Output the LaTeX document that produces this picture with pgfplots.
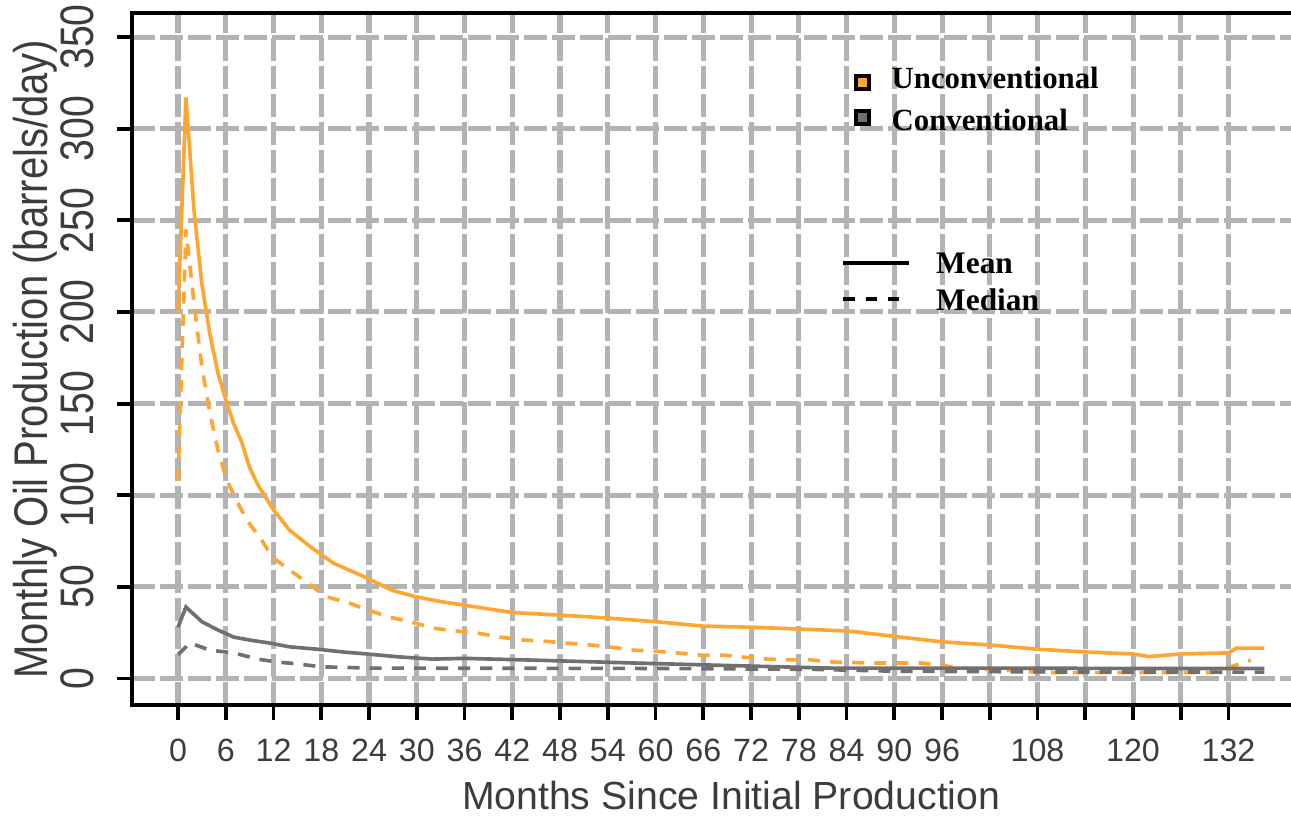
\documentclass[border=0pt]{standalone}
\usepackage{fontspec}
\setmainfont{Liberation Sans}
\newfontfamily\legfont{Liberation Serif}
\usepackage{graphicx}
\usepackage{pgfplots}
\pgfplotsset{compat=1.18}

\definecolor{uncon}{RGB}{255,166,50}
\definecolor{conv}{RGB}{112,112,112}
\definecolor{gridc}{RGB}{179,179,179}
\definecolor{labc}{RGB}{60,60,60}

\begin{document}
\begin{tikzpicture}
\useasboundingbox (0,0) rectangle (461pt,291.4pt);
\begin{axis}[
  at={(47.14pt,39.64pt)}, anchor=south west,
  scale only axis, width=414pt, height=247.1pt,
  xmin=-5.78, xmax=139.9, ymin=-14.46, ymax=363.1,
  xtick={0,6,...,132},
  xticklabels={0,6,12,18,24,30,36,42,48,54,60,66,72,78,84,90,96,,108,,120,,132},
  ytick={0,50,...,350},
  axis line style={draw=none},
  tick align=outside, tick pos=left,
  major tick length=5.2pt,
  every tick/.style={black, line width=1.4pt},
  grid=major,
  grid style={gridc, line width=1.8pt, dash pattern=on 8.2pt off 1.8pt},
  /pgf/number format/assume math mode=true,
  xticklabel style={yshift=-6.8pt, font=\fontsize{11.5}{13}\selectfont, text=labc, anchor=north, inner sep=0pt},
  yticklabel shift=8.2pt,
  yticklabel style={font=\fontsize{14}{16}\selectfont, text=labc, rotate=90, anchor=south, inner sep=0pt},
  yticklabel={\scalebox{1}[1.2]{\pgfmathprintnumber{\tick}}},
  xlabel={Months Since Initial Production},
  xlabel style={at={([yshift=-37.2pt]rel axis cs:0.5168,0)}, anchor=base, font=\fontsize{14}{16}\selectfont, text=labc},
  ylabel={\scalebox{1}[1.18]{Monthly Oil Production (barrels/day)}},
  ylabel style={at={([xshift=-30.3pt]rel axis cs:0,0.5)}, anchor=base, font=\fontsize{14.3}{16}\selectfont, text=labc},
  clip=false
]
% unconventional, mean
\addplot[uncon, line width=1.3pt] coordinates {
  (0,200)(1,317)(2,256)(3,215)(4,188)(5,167)(6,152)(7,139)(8,129)(9,115)(10,106)
  (12,92)(14,81)(16.6,72)(19.5,63)(22.9,56.5)(27,48)(30,44.5)(33,42)(36,40)
  (42,36)(48,34.6)(54,33)(60,31)(66,28.6)(72,28)(78,27)(84,26)(90,23)(96,20)
  (102,18.3)(108,16)(114,14.5)(120,13.4)(122,12)(126,13.4)(132,14)(133,16.6)(136.5,16.6)};
% unconventional, median
\addplot[uncon, line width=1.3pt, dash pattern=on 4.3pt off 3.6pt] coordinates {
  (0,108)(1,245)(2,205)(3,170)(4,145)(5,125)(6,110)(7,100)(8.7,86)(10.3,77)(11.9,66)
  (14.1,59)(16.3,52)(18.7,44.5)(21.2,41.7)(24.1,37)(26.6,33.5)(29.2,31)(32,27.5)
  (34.8,26)(37.6,24.8)(40.5,22.6)(43.4,21)(45.9,20.4)(48.9,19.3)(51.8,18.3)(54.3,17.2)
  (57.2,15.5)(59.7,15)(62.7,14)(65.6,12.8)(68.5,12.8)(71,11.7)(74,10.6)(76.9,10.2)
  (79.4,10.2)(82.3,9)(87,8.5)(93.3,8.5)(98.7,5.7)(103,4.6)(109.6,3.2)(120,3.2)
  (130,3.2)(132,6)(134.8,10)};
% conventional, mean
\addplot[conv, line width=1.3pt] coordinates {
  (0,28)(1,39)(3,31)(5,26.5)(7,22.6)(9,21)(11.6,19.3)(14,17.3)(17.5,16)(20.7,14.5)
  (24,13.3)(27.8,11.8)(32,10.6)(36,11)(45,10)(57,8.5)(70,7)(82,5.7)(100,5.7)
  (120,5.5)(136.5,5.5)};
% conventional, median
\addplot[conv, line width=1.3pt, dash pattern=on 4.3pt off 3.6pt] coordinates {
  (0,13)(1.5,19.4)(4,15.5)(7,14)(10,10.6)(12.5,9)(15,8)(18,6.4)(24,5.7)(40,5.6)
  (60,5.5)(80,5)(90,4)(110,3.6)(136.5,3.5)};
% frame: left, bottom, top
\draw[black, line width=1.4pt] (rel axis cs:1,1) -- (rel axis cs:0,1)
  -- (rel axis cs:0,0) -- (rel axis cs:1,0);
% legend
\draw[black, line width=1.4pt, fill=uncon] ([xshift=-2.3pt,yshift=-2.3pt]axis cs:86,325.4)
  rectangle ([xshift=2.3pt,yshift=2.3pt]axis cs:86,325.4);
\draw[black, line width=1.4pt, fill=conv] ([xshift=-2.3pt,yshift=-2.3pt]axis cs:86,306.3)
  rectangle ([xshift=2.3pt,yshift=2.3pt]axis cs:86,306.3);
\node[anchor=base west, inner sep=0pt, font=\legfont\fontsize{11}{13}\selectfont\bfseries]
  at (axis cs:89.6,322.1) {Unconventional};
\node[anchor=base west, inner sep=0pt, font=\legfont\fontsize{11}{13}\selectfont\bfseries]
  at (axis cs:89.6,299.2) {Conventional};
\draw[black, line width=1.4pt] (axis cs:83.6,226.7) -- (axis cs:91.8,226.7);
\draw[black, line width=1.4pt, dash pattern=on 4pt off 4pt] (axis cs:83.6,207.1) -- (axis cs:91.8,207.1);
\node[anchor=base west, inner sep=0pt, font=\legfont\fontsize{11.2}{13}\selectfont\bfseries]
  at (axis cs:95.2,221.2) {Mean};
\node[anchor=base west, inner sep=0pt, font=\legfont\fontsize{11.2}{13}\selectfont\bfseries]
  at (axis cs:95.2,201.0) {Median};
\end{axis}
\end{tikzpicture}
\end{document}
